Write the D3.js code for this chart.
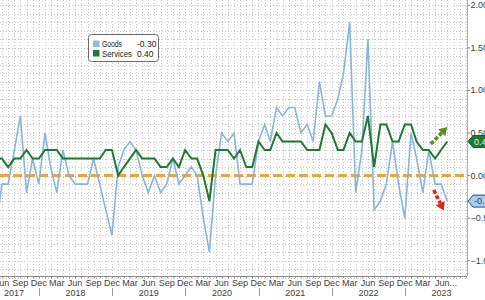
<!DOCTYPE html>
<html>
<head>
<meta charset="utf-8">
<script src="https://cdn.jsdelivr.net/npm/d3@7"></script>
<style>
  body { margin: 0; background: #fff; }
  svg { display: block; font-family: "Liberation Sans Narrow", "Liberation Sans", Arial, sans-serif; }
</style>
</head>
<body>
<svg width="485" height="300"></svg>
<script>
// monthly data, May 2017 .. Jul 2023 (month-end)
var startYear = 2017, startMonth = 4;
var goods = [
  -0.6, -0.1, -0.1, 0.3, 0.7, -0.2, 0.2, -0.1,
  0.5, 0.1, -0.2, 0.3, 0.0, -0.1, -0.1, -0.1, 0.2, -0.1, -0.4, -0.7,
  0.1, 0.3, 0.4, 0.3, 0.0, -0.2, 0.0, -0.2, -0.1, 0.2, -0.1, 0.0,
  0.1, 0.0, -0.5, -0.9, 0.0, 0.5, 0.4, 0.5, -0.1, -0.1, -0.1, 0.4,
  0.6, 0.4, 0.8, 0.7, 0.8, 0.8, 0.5, 0.6, 0.4, 1.1, 0.7, 0.7,
  0.9, 1.2, 1.8, -0.2, 0.3, 1.6, -0.4, -0.3, -0.1, 0.4, -0.1, -0.5,
  0.5, 0.2, -0.2, 0.3, -0.1, -0.1, -0.3
];
var services = [
  0.2, 0.2, 0.1, 0.2, 0.2, 0.3, 0.2, 0.2,
  0.3, 0.3, 0.3, 0.2, 0.2, 0.2, 0.2, 0.2, 0.2, 0.2, 0.3, 0.3,
  0.0, 0.1, 0.2, 0.3, 0.2, 0.2, 0.2, 0.1, 0.1, 0.2, 0.1, 0.3,
  0.2, 0.2, 0.0, -0.3, 0.3, 0.3, 0.3, 0.2, 0.3, 0.1, 0.1, 0.4,
  0.3, 0.3, 0.5, 0.4, 0.4, 0.4, 0.4, 0.3, 0.3, 0.3, 0.6, 0.5,
  0.3, 0.3, 0.5, 0.4, 0.4, 0.7, 0.1, 0.6, 0.6, 0.4, 0.4, 0.6,
  0.6, 0.4, 0.3, 0.3, 0.2, 0.3, 0.4
];
var yTicks = [2.0, 1.5, 1.0, 0.5, 0.0, -0.5, -1.0];
var monthNames = ["Jan","Feb","Mar","Apr","May","Jun","Jul","Aug","Sep","Oct","Nov","Dec"];
var years = [2017, 2018, 2019, 2020, 2021, 2022, 2023];
var legendItems = [
  {name: "Goods", value: "-0.30", color: "#8dbbe5"},
  {name: "Services", value: "0.40", color: "#1d7a2e"}
];

var W = 467, H = 276;
var svg = d3.select("svg");
var defs = svg.append("defs");

var x = d3.scaleTime()
    .domain([new Date(2018, 0, 1), new Date(2023, 0, 1)])
    .range([39, 405]);
var y = d3.scaleLinear().domain([-1, 2]).range([260.7, 5.3]);

function monthEnd(i) {
  return new Date(startYear, startMonth + i + 1, 0);
}
var dates = goods.map(function(d, i) { return monthEnd(i); });

defs.append("clipPath").attr("id", "plot")
  .append("rect").attr("width", W).attr("height", H);

// grid
var allMonthEnds = d3.timeMonth.range(new Date(2017, 5, 1), new Date(2023, 11, 1))
  .map(function(d) { return d3.timeDay.offset(d, -1); })
  .filter(function(d) { return x(d) > 0 && x(d) < W; });

var grid = svg.append("g").attr("stroke", "#c4c4c4").attr("stroke-width", 1)
    .attr("stroke-dasharray", "1,2");
grid.selectAll("line.v").data(allMonthEnds).join("line")
  .attr("x1", function(d) { return Math.round(x(d)) + 0.5; })
  .attr("x2", function(d) { return Math.round(x(d)) + 0.5; })
  .attr("y1", 0).attr("y2", H);
var hGrid = d3.range(-12, 21).map(function(d) { return d / 10; });
grid.selectAll("line.h").data(hGrid).join("line")
  .attr("x1", 0).attr("x2", W)
  .attr("y1", function(d) { return Math.round(y(d)) + 0.5; })
  .attr("y2", function(d) { return Math.round(y(d)) + 0.5; });

// zero line
svg.append("line")
  .attr("x1", 0).attr("x2", W).attr("y1", y(0)).attr("y2", y(0))
  .attr("stroke", "#f0a23c").attr("stroke-width", 3)
  .attr("stroke-dasharray", "9,4");

var line = d3.line()
  .x(function(d, i) { return x(dates[i]); })
  .y(function(d) { return y(d); });

var plot = svg.append("g").attr("clip-path", "url(#plot)");
plot.append("path").datum(goods)
  .attr("d", line).attr("fill", "none")
  .attr("stroke", "#86b6e0").attr("stroke-width", 1.6);
plot.append("path").datum(services)
  .attr("d", line).attr("fill", "none")
  .attr("stroke", "#1d7a2e").attr("stroke-width", 2);

// dashed arrows next to the last values
var lastX = x(dates[dates.length - 1]);
function arrow(x0, y0, x1, y1, color) {
  var a = Math.atan2(y1 - y0, x1 - x0), len = 8, hw = 5;
  var bx = x1 - len * Math.cos(a), by = y1 - len * Math.sin(a);
  svg.append("line")
    .attr("x1", x0).attr("y1", y0).attr("x2", bx).attr("y2", by)
    .attr("stroke", color).attr("stroke-width", 3.5).attr("stroke-dasharray", "4,2");
  svg.append("path")
    .attr("d", "M" + x1 + "," + y1 +
      "L" + (bx + hw * Math.sin(a)) + "," + (by - hw * Math.cos(a)) +
      "L" + (bx - hw * Math.sin(a)) + "," + (by + hw * Math.cos(a)) + "Z")
    .attr("fill", color);
}
arrow(lastX - 16.5, y(0.37), lastX, y(0.57), "#5b8c1c");
arrow(lastX - 13.5, y(-0.17), lastX - 3.5, y(-0.41), "#e2231a");

// axis lines
svg.append("line").attr("x1", 0).attr("x2", W).attr("y1", H + 0.5).attr("y2", H + 0.5)
  .attr("stroke", "#8a8a8a");
svg.append("line").attr("x1", W + 0.5).attr("x2", W + 0.5).attr("y1", 0).attr("y2", H)
  .attr("stroke", "#9fb3c4");

svg.append("g").selectAll("line").data(allMonthEnds).join("line")
  .attr("x1", function(d) { return Math.round(x(d)) + 0.5; })
  .attr("x2", function(d) { return Math.round(x(d)) + 0.5; })
  .attr("y1", H).attr("y2", H + 2).attr("stroke", "#8a8a8a");

var qTicks = d3.timeMonth.range(new Date(2017, 5, 1), new Date(2023, 11, 1))
  .map(function(d) { return d3.timeDay.offset(d, -1); })
  .filter(function(d) { return d.getMonth() % 3 === 2 && x(d) > -10 && x(d) < W - 10; });
svg.append("g").selectAll("text").data(qTicks).join("text")
  .attr("x", function(d, i) { return i === qTicks.length - 1 ? x(d) - 6 : x(d); })
  .attr("y", 286)
  .attr("text-anchor", function(d, i) { return i === qTicks.length - 1 ? "start" : "middle"; })
  .attr("font-size", 9).attr("fill", "#3d3d3d")
  .text(function(d, i) {
    var s = monthNames[d.getMonth()];
    return i === qTicks.length - 1 ? s + "..." : s;
  });

var yearG = svg.append("g");
yearG.selectAll("line").data(years.slice(1)).join("line")
  .attr("x1", function(d) { return Math.round(x(new Date(d, 0, 1))) + 0.5; })
  .attr("x2", function(d) { return Math.round(x(new Date(d, 0, 1))) + 0.5; })
  .attr("y1", 288).attr("y2", 296).attr("stroke", "#9a9a9a");
yearG.selectAll("text").data(years).join("text")
  .attr("x", function(d) {
    var c = (x(new Date(d, 0, 1)) + x(new Date(d + 1, 0, 1))) / 2;
    return Math.max(14, Math.min(c, W - 14));
  })
  .attr("y", 296)
  .attr("text-anchor", "middle")
  .attr("font-size", 9).attr("fill", "#3d3d3d")
  .text(function(d) { return d; });

// right axis
var yAxisG = svg.append("g");
yAxisG.selectAll("line").data(yTicks).join("line")
  .attr("x1", W).attr("x2", W + 3)
  .attr("y1", function(d) { return y(d); }).attr("y2", function(d) { return y(d); })
  .attr("stroke", "#888");
yAxisG.selectAll("text").data(yTicks).join("text")
  .attr("x", W + 3.5).attr("y", function(d) { return y(d) + 3; })
  .attr("font-size", 9).attr("fill", "#3d3d3d")
  .text(function(d) { return d3.format(".2f")(d); });

// last value tags
function tag(v, label, fill, stroke, textColor) {
  var cy = y(v);
  var g = svg.append("g");
  g.append("path")
    .attr("d", "M" + (W + 1) + "," + cy + "L" + (W + 6) + "," + (cy - 6) + "L490," + (cy - 6) +
      "L490," + (cy + 6) + "L" + (W + 6) + "," + (cy + 6) + "Z")
    .attr("fill", fill).attr("stroke", stroke).attr("stroke-width", 1);
  g.append("text").attr("x", W + 7).attr("y", cy + 3.2)
    .attr("font-size", 9).attr("fill", textColor).text(label);
}
tag(services[services.length - 1], "0.40", "#1d7a2e", "#15602a", "#e8f5e8");
tag(goods[goods.length - 1], "-0.30", "#a9cdef", "#1f4f8a", "#1a3f73");

// legend
var lg = svg.append("g");
lg.append("rect").attr("x", 88.5).attr("y", 34.5).attr("width", 70).attr("height", 27)
  .attr("rx", 3).attr("fill", "#fff").attr("stroke", "#6b6b6b");
var rows = lg.selectAll("g").data(legendItems).join("g")
  .attr("transform", function(d, i) { return "translate(0," + (i * 9.5) + ")"; });
rows.append("rect").attr("x", 93).attr("y", 40.5).attr("width", 6.5).attr("height", 6.5)
  .attr("fill", function(d) { return d.color; });
rows.append("text").attr("x", 102).attr("y", 47.2).attr("font-size", 8.5).attr("fill", "#222")
  .attr("textLength", function(d) { return d.name === "Goods" ? 20 : 30; })
  .attr("lengthAdjust", "spacingAndGlyphs")
  .text(function(d) { return d.name; });
rows.append("text").attr("x", 137).attr("y", 47.2).attr("font-size", 8.5).attr("fill", "#222")
  .text(function(d) { return d.value; });
</script>
</body>
</html>
